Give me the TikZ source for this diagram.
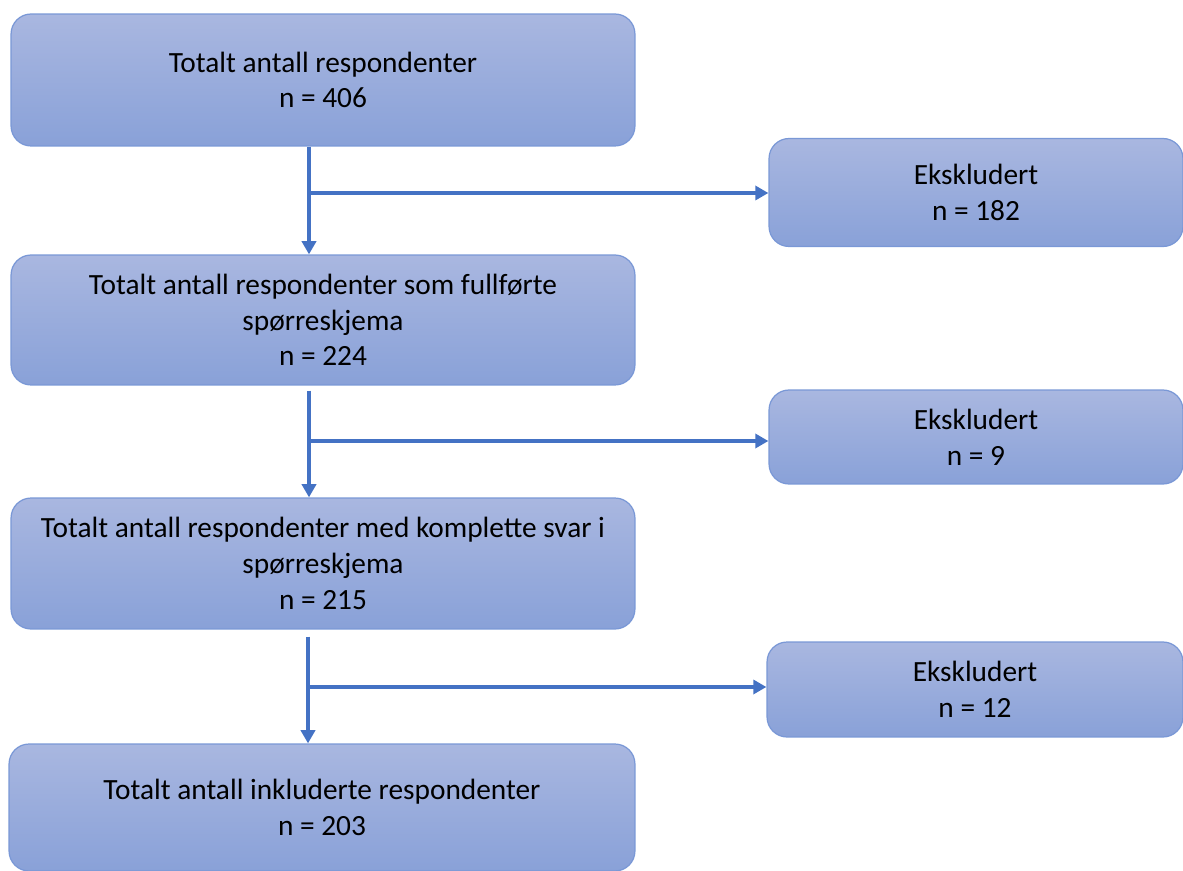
\documentclass[tikz,border=0pt]{standalone}
\usepackage{fontspec}
\setmainfont{Carlito}
\usetikzlibrary{arrows.meta,calc}
\definecolor{boxtop}{HTML}{A9B7E0}
\definecolor{boxbot}{HTML}{89A1D8}
\definecolor{boxedge}{HTML}{7A98D6}
\definecolor{arrowc}{HTML}{4472C4}
\tikzset{
  flowbox/.style={draw=boxedge, line width=0.7pt, rounded corners=0.4cm,
    top color=boxtop, bottom color=boxbot, align=center, text=black,
    font=\fontsize{16.7}{20.3}\selectfont, inner sep=0pt},
  mainbox/.style={flowbox, minimum width=12.48cm},
  exbox/.style={flowbox, minimum width=8.28cm},
  arr/.style={draw=arrowc, line width=1.9pt, -{Triangle[length=7.5pt,width=8pt]}},
}
\begin{document}
\begin{tikzpicture}[x=0.02cm, y=-0.02cm]
\useasboundingbox (0,0) rectangle (1183,871);
\node[mainbox, minimum height=2.64cm] (b1) at (323,80) {Totalt antall respondenter\\ n = 406};
\node[mainbox, minimum height=2.60cm] (b2) at (323,320) {Totalt antall respondenter som fullførte\\ spørreskjema\\ n = 224};
\node[mainbox, minimum height=2.62cm] (b3) at (323,563.5) {Totalt antall respondenter med komplette svar i\\ spørreskjema\\ n = 215};
\node[mainbox, minimum height=2.54cm, minimum width=12.52cm] (b4) at (322,807.5) {Totalt antall inkluderte respondenter\\ n = 203};
\node[exbox, minimum height=2.16cm] (e1) at (976,192.5) {Ekskludert\\ n = 182};
\node[exbox, minimum height=1.88cm] (e2) at (976,437) {Ekskludert\\ n = 9};
\node[exbox, minimum height=1.90cm, minimum width=8.32cm] (e3) at (975,689.5) {Ekskludert\\ n = 12};
\coordinate (j1) at (309,193);
\coordinate (j2) at (309,441);
\coordinate (j3) at (308,687);
\draw[arr] (j1 |- b1.south) -- (j1 |- b2.north);
\draw[arr] (j1) -- (e1.west |- j1);
\draw[arr, shorten <=0.1cm] (j2 |- b2.south) -- (j2 |- b3.north);
\draw[arr] (j2) -- (e2.west |- j2);
\draw[arr, shorten <=0.14cm] (j3 |- b3.south) -- (j3 |- b4.north);
\draw[arr] ($(j3)+(-2,0)$) -- (e3.west |- j3);
\end{tikzpicture}
\end{document}
